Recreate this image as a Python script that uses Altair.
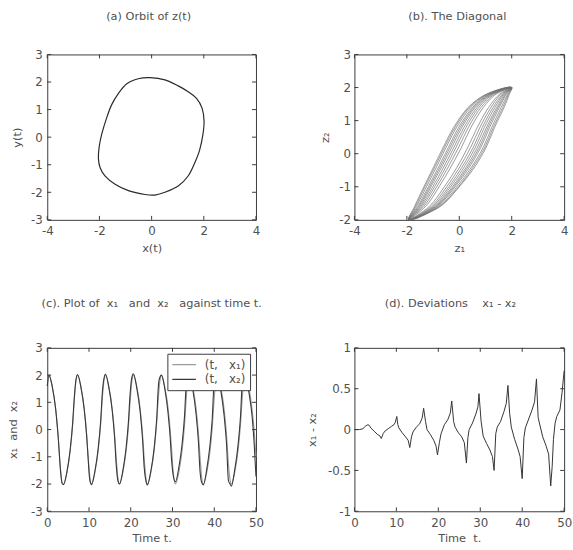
import altair as alt
import pandas as pd

NB = "\u00a0"
FONT = "DejaVu Sans"
TXT = "#505050"
INK = "#3a3a3a"

# (a) closed orbit of z(t) = (x(t), y(t)), traced clockwise from the top
orbit_x = [-0.06, 0.51, 1.02, 1.40, 1.72, 1.93, 2.01, 1.97, 1.84, 1.65, 1.40, 1.02, 0.51, 0.13,
           -0.25, -0.89, -1.40, -1.78, -1.97, -2.04, -2.01, -1.91, -1.72, -1.53, -1.27, -0.95, -0.51]
orbit_y = [2.16, 2.08, 1.86, 1.65, 1.41, 1.06, 0.59, 0.12, -0.47, -0.94, -1.41, -1.77, -2.00, -2.10,
           -2.08, -1.94, -1.71, -1.41, -1.12, -0.77, -0.35, 0.12, 0.71, 1.18, 1.59, 1.94, 2.12]

# (b) sweeps of (z1, z2) along the diagonal: each sweep climbs on the left edge
# and comes back on the right edge, widening as the two components drift apart
diag_levels = [-1.6, -1.0, -0.4, 0.2, 0.8, 1.4, 1.8]
sweep_up = [
    [-1.29, -0.77, -0.32, 0.09, 0.45, 0.92, 1.40],
    [-1.36, -0.86, -0.42, -0.02, 0.35, 0.83, 1.35],
    [-1.42, -0.94, -0.51, -0.12, 0.26, 0.75, 1.29],
    [-1.47, -1.01, -0.59, -0.20, 0.18, 0.68, 1.25],
    [-1.51, -1.08, -0.67, -0.28, 0.10, 0.61, 1.21],
    [-1.55, -1.13, -0.73, -0.35, 0.04, 0.56, 1.17],
    [-1.59, -1.18, -0.79, -0.41, -0.02, 0.51, 1.14],
    [-1.64, -1.25, -0.87, -0.50, -0.10, 0.44, 1.09],
    [-1.68, -1.31, -0.93, -0.56, -0.16, 0.38, 1.06],
    [-1.71, -1.35, -0.98, -0.61, -0.21, 0.34, 1.03],
]
sweep_down = [
    [-1.15, -0.57, -0.08, 0.33, 0.69, 1.12, 1.54],
    [-1.08, -0.48, 0.02, 0.44, 0.79, 1.21, 1.59],
    [-1.02, -0.40, 0.11, 0.54, 0.88, 1.29, 1.65],
    [-0.97, -0.33, 0.19, 0.62, 0.96, 1.36, 1.69],
    [-0.93, -0.26, 0.27, 0.70, 1.04, 1.43, 1.73],
    [-0.89, -0.21, 0.33, 0.77, 1.10, 1.48, 1.77],
    [-0.85, -0.16, 0.39, 0.83, 1.16, 1.53, 1.80],
    [-0.80, -0.09, 0.47, 0.92, 1.24, 1.60, 1.85],
    [-0.76, -0.03, 0.53, 0.98, 1.30, 1.66, 1.88],
    [-0.73, 0.00, 0.59, 1.03, 1.35, 1.71, 1.91],
]
tip_low = (-1.93, -2.0)
tip_high = (2.0, 2.0)

# (c)/(d) time samples, first component x1 and the deviation x1 - x2
time_t = [0, 0.4, 1.2, 2.0, 2.6, 3.2, 3.55, 3.9,
          4.7, 5.5, 6.1, 6.4, 6.85, 7.25,
          8.05, 8.85, 9.45, 9.75, 10.1, 10.35, 10.6,
          11.4, 12.2, 12.8, 13.2, 13.6, 13.95,
          14.75, 15.55, 16.15, 16.5, 16.95, 17.3,
          18.1, 18.9, 19.45, 19.8, 20.25, 20.65,
          21.45, 22.25, 22.85, 23.2, 23.65, 24.0,
          24.8, 25.6, 26.2, 26.7, 27.05, 27.35,
          28.15, 28.95, 29.45, 29.7, 30.2, 30.7,
          31.5, 32.3, 32.9, 33.3, 33.7, 34.05,
          34.85, 35.65, 36.2, 36.6, 37.0, 37.4,
          38.2, 39.0, 39.5, 40.0, 40.4, 40.75,
          41.55, 42.35, 42.95, 43.4, 43.8, 44.1,
          44.9, 45.7, 46.3, 46.8, 47.15, 47.45,
          47.85, 48.25, 49.0, 49.5, 50.0]
x1_vals = [1.6, 2.0, 1.58, 0.78, -0.2, -1.5, -1.93, -2.0,
           -1.58, -0.78, 0.2, 0.9, 1.75, 2.0,
           1.58, 0.78, -0.2, -0.88, -1.58, -1.9, -2.0,
           -1.58, -0.78, 0.2, 1.15, 1.8, 2.0,
           1.58, 0.78, -0.2, -1.0, -1.8, -2.0,
           -1.58, -0.78, 0.1, 0.9, 1.75, 2.0,
           1.58, 0.78, -0.2, -1.0, -1.8, -2.0,
           -1.58, -0.78, 0.2, 1.33, 1.85, 2.0,
           1.58, 0.78, -0.02, -0.5, -1.6, -2.0,
           -1.58, -0.78, 0.2, 1.15, 1.8, 2.0,
           1.58, 0.78, -0.1, -1.0, -1.75, -2.0,
           -1.58, -0.78, 0.02, 1.15, 1.8, 2.0,
           1.58, 0.78, -0.2, -1.25, -1.85, -2.0,
           -1.58, -0.78, 0.2, 1.33, 1.85, 2.0,
           1.88, 1.58, 0.83, 0.1, -1.0]
dev_vals = [0.0, 0.0, 0.0, 0.01, 0.04, 0.06, 0.05, 0.02,
            -0.02, -0.06, -0.08, -0.11, -0.05, -0.02,
            0.01, 0.04, 0.06, 0.09, 0.16, 0.06, 0.02,
            -0.04, -0.09, -0.13, -0.22, -0.09, -0.03,
            0.03, 0.07, 0.14, 0.26, 0.10, 0.0,
            -0.06, -0.13, -0.20, -0.31, -0.16, -0.05,
            0.06, 0.12, 0.20, 0.35, 0.10, 0.03,
            -0.04, -0.09, -0.16, -0.41, -0.10, 0.0,
            0.08, 0.19, 0.28, 0.44, 0.10, -0.08,
            -0.17, -0.25, -0.33, -0.50, -0.05, 0.03,
            0.10, 0.22, 0.32, 0.54, 0.20, 0.03,
            -0.12, -0.24, -0.33, -0.60, -0.10, 0.02,
            0.13, 0.24, 0.34, 0.62, 0.15, 0.08,
            -0.09, -0.20, -0.30, -0.69, -0.45, -0.12,
            0.08, 0.16, 0.24, 0.45, 0.72]

# tick positions of each panel
ticks_a_x = [-4, -2, 0, 2, 4]
ticks_a_y = [-3, -2, -1, 0, 1, 2, 3]
ticks_b_x = [-4, -2, 0, 2, 4]
ticks_b_y = [-2, -1, 0, 1, 2, 3]
ticks_t = [0, 10, 20, 30, 40, 50]
ticks_c_y = [-3, -2, -1, 0, 1, 2, 3]
ticks_d_y = [-1, -0.5, 0, 0.5, 1]

LAB1 = f"(t,{NB*3}x\u2081)"
LAB2 = f"(t,{NB*3}x\u2082)"

# ---- tables ----
df_a = pd.DataFrame({"x": orbit_x, "y": orbit_y, "i": range(len(orbit_x))})

rows_b = []
for up, down in zip(sweep_up, sweep_down):
    rows_b.append(tip_low)
    rows_b.extend(zip(up, diag_levels))
    rows_b.append(tip_high)
    rows_b.extend(zip(reversed(down), reversed(diag_levels)))
rows_b.append(tip_low)
df_b = pd.DataFrame(rows_b, columns=["z1", "z2"])
df_b["i"] = range(len(df_b))

x2_vals = [round(a - b, 3) for a, b in zip(x1_vals, dev_vals)]
df_c = pd.concat([
    pd.DataFrame({"t": time_t, "v": x1_vals, "s": LAB1}),
    pd.DataFrame({"t": time_t, "v": x2_vals, "s": LAB2}),
])
df_d = pd.DataFrame({"t": time_t, "d": dev_vals})

LABEL_EXPR = "datum.value < 0 ? '-' + format(-datum.value, '~g') : format(datum.value, '~g')"


def axis(values, title, label_pad, title_pad):
    return alt.Axis(values=values, title=title, labelExpr=LABEL_EXPR,
                    labelFont=FONT, labelFontSize=12, labelColor=TXT, labelPadding=label_pad,
                    labelFlush=False, labelOverlap=False,
                    titleFont=FONT, titleFontSize=11.5, titleFontWeight="normal",
                    titleColor=TXT, titlePadding=title_pad,
                    ticks=False, tickSize=0, domain=False, grid=False)


def inner_ticks(xvals, yvals, xs, ys, W, H):
    """Short inward ticks on all four sides of the box."""
    tx = alt.Chart(pd.DataFrame({"tv": xvals})).mark_rule(color=INK, strokeWidth=1)
    ty = alt.Chart(pd.DataFrame({"tv": yvals})).mark_rule(color=INK, strokeWidth=1)
    X = alt.X("tv:Q", scale=xs, axis=None)
    Y = alt.Y("tv:Q", scale=ys, axis=None)
    return [
        tx.encode(x=X, y=alt.value(H), y2=alt.value(H - 4)),
        tx.encode(x=X, y=alt.value(0), y2=alt.value(4)),
        ty.encode(y=Y, x=alt.value(0), x2=alt.value(4)),
        ty.encode(y=Y, x=alt.value(W), x2=alt.value(W - 4)),
    ]


def title(text, offset, dx):
    return alt.TitleParams(text=text, font=FONT, fontSize=11.5, fontWeight="normal",
                           color=TXT, anchor="middle", frame="group", offset=offset, dx=dx)


def panel(main, ticks, W, H, ttl):
    return (alt.layer(main, *ticks)
            .resolve_axis(x="independent", y="independent")
            .properties(width=W, height=H, title=ttl))


WL = 212   # left column plot width
WR = 213   # right column plot width
H1 = 168
H2 = 166

# (a)
xs_a = alt.Scale(domain=[-4, 4], nice=False, zero=False)
ys_a = alt.Scale(domain=[-3, 3], nice=False, zero=False)
line_a = alt.Chart(df_a).mark_line(interpolate="cardinal-closed", color="#2a2a2a", strokeWidth=1.2).encode(
    x=alt.X("x:Q", scale=xs_a, axis=axis(ticks_a_x, "x(t)", 6, 6)),
    y=alt.Y("y:Q", scale=ys_a, axis=axis(ticks_a_y, "y(t)", 5, 8)),
    order="i:Q",
)
panel_a = panel(line_a, inner_ticks(ticks_a_x, ticks_a_y, xs_a, ys_a, WL, H1), WL, H1,
                title("(a) Orbit of z(t)", 26, -3))

# (b)
xs_b = alt.Scale(domain=[-4, 4], nice=False, zero=False)
ys_b = alt.Scale(domain=[-2, 3], nice=False, zero=False)
line_b = alt.Chart(df_b).mark_line(interpolate="catmull-rom", color="#707070", strokeWidth=0.7,
                                   clip=True).encode(
    x=alt.X("z1:Q", scale=xs_b, axis=axis(ticks_b_x, "z\u2081", 6, 6)),
    y=alt.Y("z2:Q", scale=ys_b, axis=axis(ticks_b_y, "z\u2082", 4, 8)),
    order="i:Q",
)
panel_b = panel(line_b, inner_ticks(ticks_b_x, ticks_b_y, xs_b, ys_b, WR, H1), WR, H1,
                title("(b). The Diagonal", 26, -2))

# (c)
xs_c = alt.Scale(domain=[0, 50], nice=False, zero=False)
ys_c = alt.Scale(domain=[-3, 3], nice=False, zero=False)
line_c = alt.Chart(df_c).mark_line(interpolate="monotone", strokeWidth=1.1).encode(
    x=alt.X("t:Q", scale=xs_c, axis=axis(ticks_t, "Time t.", 6, 5)),
    y=alt.Y("v:Q", scale=ys_c, axis=axis(ticks_c_y, f"x\u2081{NB*2}and{NB*2}x\u2082", 5, 12)),
    color=alt.Color("s:N", scale=alt.Scale(domain=[LAB1, LAB2], range=["#9a9a9a", "#383838"]),
                    legend=alt.Legend(title=None, orient="top-right", offset=6,
                                      fillColor="white", strokeColor=INK, padding=4,
                                      symbolType="stroke", symbolSize=576, symbolStrokeWidth=1.3,
                                      clipHeight=14, rowPadding=1, labelOffset=8,
                                      labelFont=FONT, labelFontSize=12, labelColor=TXT)),
)
panel_c = panel(line_c, inner_ticks(ticks_t, ticks_c_y, xs_c, ys_c, WL, H2), WL, H2,
                title(f"(c). Plot of {NB}x\u2081{NB*3}and{NB*2}x\u2082{NB*3}against time t.", 33, 0))

# (d)
xs_d = alt.Scale(domain=[0, 50], nice=False, zero=False)
ys_d = alt.Scale(domain=[-1, 1], nice=False, zero=False)
line_d = alt.Chart(df_d).mark_line(color="#333333", strokeWidth=1).encode(
    x=alt.X("t:Q", scale=xs_d, axis=axis(ticks_t, f"Time{NB*2}t.", 6, 5)),
    y=alt.Y("d:Q", scale=ys_d, axis=axis(ticks_d_y, "x\u2081 - x\u2082", 4, 10)),
)
panel_d = panel(line_d, inner_ticks(ticks_t, ticks_d_y, xs_d, ys_d, WR, H2), WR, H2,
                title(f"(d). Deviations{NB*4}x\u2081 - x\u2082", 33, -9))

chart = alt.concat(
    panel_a, panel_b, panel_c, panel_d,
    columns=2, spacing={"row": 130, "column": 100}, bounds="flush",
).resolve_legend(color="independent").properties(
    padding={"left": 7, "top": 7, "right": 0, "bottom": 0},
    background="white",
).configure_view(stroke=INK, strokeWidth=1)

chart.save("out.html", embed_options={"renderer": "svg", "actions": False})
